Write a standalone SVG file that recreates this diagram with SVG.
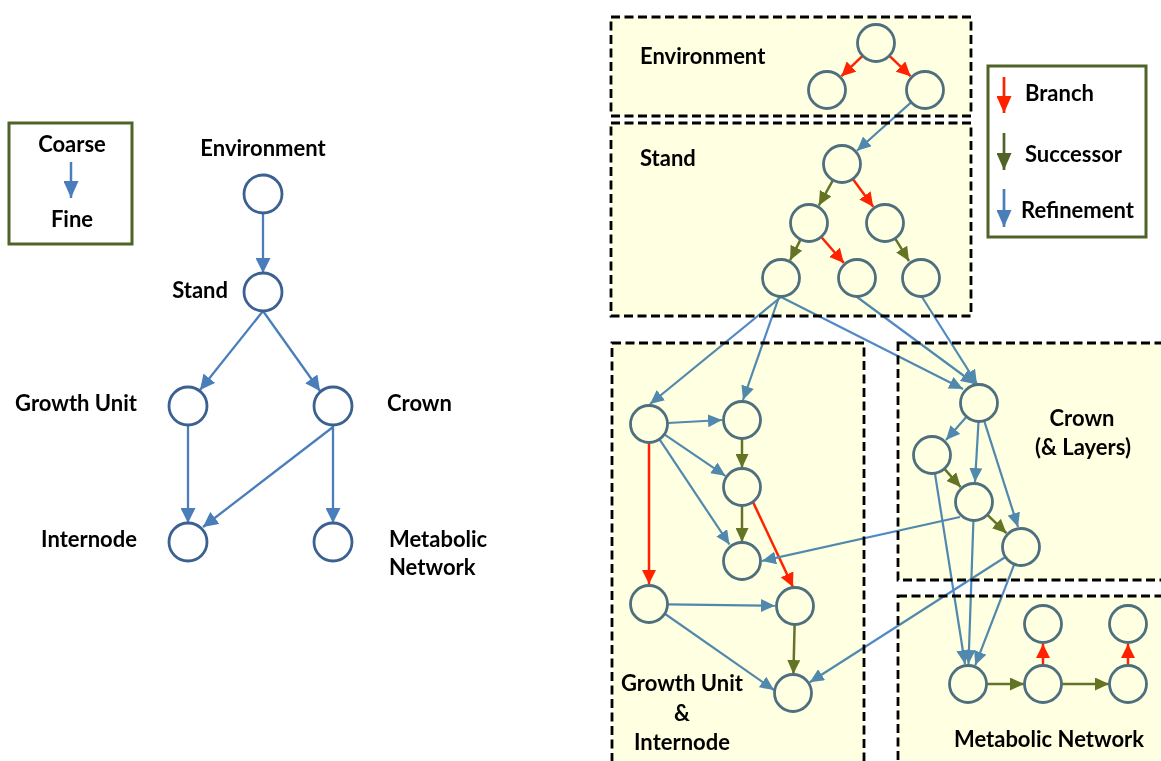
<svg xmlns="http://www.w3.org/2000/svg" width="1161" height="761" viewBox="0 0 1161 761">
<style>
  text { font-family: Lato, "Liberation Sans", sans-serif; font-weight: bold; font-size: 22px; fill: #000; }
  .mid { text-anchor: middle; }
  .end { text-anchor: end; }
  .lnode { fill: #fff; stroke: #3b6192; stroke-width: 2.8; }
  .rnode { fill: none; stroke: #4d6f7e; stroke-width: 2.8; }
  .box { fill: #ffffe1; stroke: #000; stroke-width: 2.8; stroke-dasharray: 9 4.5; }
  .legend { fill: #fff; stroke: #4f6228; stroke-width: 3; }
  .lref { stroke: #4a7ebb; stroke-width: 2.3; fill: none; marker-end: url(#ahL); }
  .ref { stroke: #5089c4; stroke-width: 2.2; fill: none; marker-end: url(#ahB); }
  .br { stroke: #ff2200; stroke-width: 2.5; fill: none; marker-end: url(#ahR); }
  .su { stroke: #63752a; stroke-width: 2.5; fill: none; marker-end: url(#ahO); }
  #right-connectors { mix-blend-mode: multiply; }
</style>
<defs>
  <marker id="ahL" markerUnits="userSpaceOnUse" markerWidth="15" markerHeight="15" refX="15" refY="7.5" orient="auto" viewBox="0 0 15 15"><path d="M0,0 L15,7.5 L0,15 z" fill="#4a7ebb"/></marker>
  <marker id="ahB" markerUnits="userSpaceOnUse" markerWidth="14" markerHeight="13" refX="14" refY="6.5" orient="auto" viewBox="0 0 14 13"><path d="M0,0 L14,6.5 L0,13 z" fill="#5089c4"/></marker>
  <marker id="ahR" markerUnits="userSpaceOnUse" markerWidth="14" markerHeight="14" refX="14" refY="7" orient="auto" viewBox="0 0 14 14"><path d="M0,0 L14,7 L0,14 z" fill="#ff2200"/></marker>
  <marker id="ahO" markerUnits="userSpaceOnUse" markerWidth="14" markerHeight="13" refX="14" refY="6.5" orient="auto" viewBox="0 0 14 13"><path d="M0,0 L14,6.5 L0,13 z" fill="#63752a"/></marker>
  <marker id="ahLegR" markerUnits="userSpaceOnUse" markerWidth="17" markerHeight="15" refX="17" refY="7.5" orient="auto" viewBox="0 0 17 15"><path d="M0,0 L17,7.5 L0,15 z" fill="#ff2200"/></marker>
  <marker id="ahLegO" markerUnits="userSpaceOnUse" markerWidth="17" markerHeight="15" refX="17" refY="7.5" orient="auto" viewBox="0 0 17 15"><path d="M0,0 L17,7.5 L0,15 z" fill="#4f6228"/></marker>
  <marker id="ahLegB" markerUnits="userSpaceOnUse" markerWidth="17" markerHeight="15" refX="17" refY="7.5" orient="auto" viewBox="0 0 17 15"><path d="M0,0 L17,7.5 L0,15 z" fill="#4a7ebb"/></marker>
</defs>

<!-- ===== Left: coarse-to-fine hierarchy ===== -->
<g id="legend-coarse-fine">
  <rect class="legend" x="9" y="123" width="123" height="121"/>
  <text class="mid" x="72" y="152">Coarse</text>
  <line x1="71" y1="162" x2="71" y2="198" stroke="#4a7ebb" stroke-width="2.5" marker-end="url(#ahLegB)"/>
  <text class="mid" x="72" y="227">Fine</text>
</g>

<g id="left-connectors">
  <line class="lref" x1="263" y1="213" x2="263" y2="273"/>
  <line class="lref" x1="263" y1="311" x2="200" y2="390"/>
  <line class="lref" x1="263" y1="311" x2="320" y2="391"/>
  <line class="lref" x1="188" y1="425" x2="188" y2="523"/>
  <line class="lref" x1="333" y1="427" x2="203" y2="527"/>
  <line class="lref" x1="333" y1="425" x2="333" y2="523"/>
</g>

<g id="l-environment"><circle class="lnode" cx="263" cy="194" r="19"/><text class="mid" x="263" y="156">Environment</text></g>
<g id="l-stand"><circle class="lnode" cx="263" cy="292" r="19"/><text class="end" x="228" y="298">Stand</text></g>
<g id="l-growth-unit"><circle class="lnode" cx="188" cy="406" r="19"/><text class="end" x="137" y="411">Growth Unit</text></g>
<g id="l-crown"><circle class="lnode" cx="333" cy="406" r="19"/><text x="387" y="411">Crown</text></g>
<g id="l-internode"><circle class="lnode" cx="188" cy="542" r="19"/><text class="end" x="137" y="547">Internode</text></g>
<g id="l-metabolic"><circle class="lnode" cx="333" cy="542" r="19"/><text x="389" y="547">Metabolic</text><text x="389" y="575">Network</text></g>

<!-- ===== Right: detailed multiscale graph ===== -->
<g id="box-environment"><rect class="box" x="611" y="17" width="360" height="99"/></g>
<g id="box-stand"><rect class="box" x="611" y="123" width="360" height="193"/></g>
<g id="box-growth-unit"><rect class="box" x="612" y="343" width="252" height="430"/></g>
<g id="box-crown"><rect class="box" x="898" y="343" width="280" height="237"/></g>
<g id="box-metabolic"><rect class="box" x="898" y="596" width="280" height="180"/></g>

<g id="legend-edges">
  <rect class="legend" x="988" y="66" width="158" height="171"/>
  <line x1="1004" y1="77" x2="1004" y2="113" stroke="#ff2200" stroke-width="2.7" marker-end="url(#ahLegR)"/>
  <text x="1025" y="101">Branch</text>
  <line x1="1004" y1="133" x2="1004" y2="170" stroke="#4f6228" stroke-width="2.7" marker-end="url(#ahLegO)"/>
  <text x="1025" y="162">Successor</text>
  <line x1="1004" y1="189" x2="1004" y2="227" stroke="#4a7ebb" stroke-width="2.7" marker-end="url(#ahLegB)"/>
  <text x="1021" y="218">Refinement</text>
</g>

<g id="right-connectors">
  <!-- branch -->
  <line class="br" x1="862.3" y1="56.1" x2="841.4" y2="76.2"/>
  <line class="br" x1="889.7" y1="56.1" x2="910.6" y2="76.2"/>
  <line class="br" x1="853.2" y1="179.4" x2="873.2" y2="206.8"/>
  <line class="br" x1="821.5" y1="237.3" x2="843.8" y2="262.9"/>
  <line class="br" x1="649" y1="443" x2="649" y2="584"/>
  <line class="br" x1="753" y1="502" x2="793" y2="587"/>
  <line class="br" x1="1043" y1="665" x2="1043" y2="644"/>
  <line class="br" x1="1128" y1="665" x2="1128" y2="644"/>
  <!-- successor -->
  <line class="su" x1="832.7" y1="180.6" x2="818.8" y2="205.5"/>
  <line class="su" x1="800.4" y1="239.9" x2="790.1" y2="260.2"/>
  <line class="su" x1="895.4" y1="238.9" x2="909" y2="261"/>
  <line class="su" x1="742" y1="439" x2="742" y2="468"/>
  <line class="su" x1="742" y1="506" x2="742" y2="542"/>
  <line class="su" x1="794.6" y1="625" x2="793.4" y2="674"/>
  <line class="su" x1="944.7" y1="469.2" x2="960.7" y2="487.1"/>
  <line class="su" x1="987.7" y1="515.1" x2="1006.5" y2="533.2"/>
  <line class="su" x1="987" y1="684" x2="1024" y2="684"/>
  <line class="su" x1="1062" y1="684" x2="1109" y2="684"/>
  <!-- refinement -->
  <line class="ref" x1="910.8" y1="102.6" x2="856.9" y2="150.7"/>
  <line class="ref" x1="781" y1="297" x2="650" y2="404"/>
  <line class="ref" x1="779" y1="297" x2="743" y2="400"/>
  <line class="ref" x1="781" y1="297" x2="963" y2="389"/>
  <line class="ref" x1="857" y1="297" x2="975" y2="384"/>
  <line class="ref" x1="922" y1="297" x2="977" y2="384"/>
  <line class="ref" x1="668" y1="423" x2="722" y2="420"/>
  <line class="ref" x1="664.7" y1="434.7" x2="725.4" y2="475.8"/>
  <line class="ref" x1="659.7" y1="439.7" x2="729.5" y2="544.5"/>
  <line class="ref" x1="668" y1="604.3" x2="775" y2="605.7"/>
  <line class="ref" x1="665.2" y1="614" x2="774" y2="690"/>
  <line class="ref" x1="960" y1="517" x2="762" y2="561"/>
  <line class="ref" x1="1005" y1="557.2" x2="809.8" y2="682.2"/>
  <line class="ref" x1="966.3" y1="417.1" x2="946" y2="440"/>
  <line class="ref" x1="978.5" y1="422" x2="975" y2="482"/>
  <line class="ref" x1="984.3" y1="421.2" x2="1018" y2="527"/>
  <line class="ref" x1="935" y1="473.8" x2="965" y2="664"/>
  <line class="ref" x1="973.4" y1="521" x2="968.5" y2="664"/>
  <line class="ref" x1="1014.1" y1="564.7" x2="975.2" y2="665.3"/>
</g>

<g id="env-1"><circle class="rnode" cx="876" cy="43" r="18.5"/></g>
<g id="env-2"><circle class="rnode" cx="827" cy="90" r="18.5"/></g>
<g id="env-3"><circle class="rnode" cx="925" cy="90" r="18.5"/></g>
<g id="stand-1"><circle class="rnode" cx="842" cy="164" r="18.5"/></g>
<g id="stand-2"><circle class="rnode" cx="809" cy="223" r="18.5"/></g>
<g id="stand-3"><circle class="rnode" cx="885" cy="223" r="18.5"/></g>
<g id="stand-4"><circle class="rnode" cx="781" cy="278" r="18.5"/></g>
<g id="stand-5"><circle class="rnode" cx="857" cy="278" r="18.5"/></g>
<g id="stand-6"><circle class="rnode" cx="921" cy="278" r="18.5"/></g>
<g id="gu-1"><circle class="rnode" cx="649" cy="424" r="18.5"/></g>
<g id="gu-2"><circle class="rnode" cx="742" cy="420" r="18.5"/></g>
<g id="gu-3"><circle class="rnode" cx="742" cy="487" r="18.5"/></g>
<g id="gu-4"><circle class="rnode" cx="742" cy="561" r="18.5"/></g>
<g id="gu-5"><circle class="rnode" cx="649" cy="604" r="18.5"/></g>
<g id="gu-6"><circle class="rnode" cx="795" cy="606" r="18.5"/></g>
<g id="gu-7"><circle class="rnode" cx="793" cy="693" r="18.5"/></g>
<g id="crown-1"><circle class="rnode" cx="979" cy="403" r="18.5"/></g>
<g id="crown-2"><circle class="rnode" cx="932" cy="455" r="18.5"/></g>
<g id="crown-3"><circle class="rnode" cx="974" cy="502" r="18.5"/></g>
<g id="crown-4"><circle class="rnode" cx="1021" cy="547" r="18.5"/></g>
<g id="met-1"><circle class="rnode" cx="968" cy="684" r="18.5"/></g>
<g id="met-2"><circle class="rnode" cx="1043" cy="684" r="18.5"/></g>
<g id="met-3"><circle class="rnode" cx="1128" cy="684" r="18.5"/></g>
<g id="met-4"><circle class="rnode" cx="1043" cy="624" r="18.5"/></g>
<g id="met-5"><circle class="rnode" cx="1128" cy="624" r="18.5"/></g>

<g id="box-labels">
  <text x="640" y="64">Environment</text>
  <text x="640" y="166">Stand</text>
  <text class="mid" x="1082" y="426">Crown</text>
  <text class="mid" x="1083" y="455">(&amp; Layers)</text>
  <text class="mid" x="682" y="691">Growth Unit</text>
  <text class="mid" x="682" y="721">&amp;</text>
  <text class="mid" x="682" y="750">Internode</text>
  <text class="mid" x="1049" y="747">Metabolic Network</text>
</g>
</svg>
